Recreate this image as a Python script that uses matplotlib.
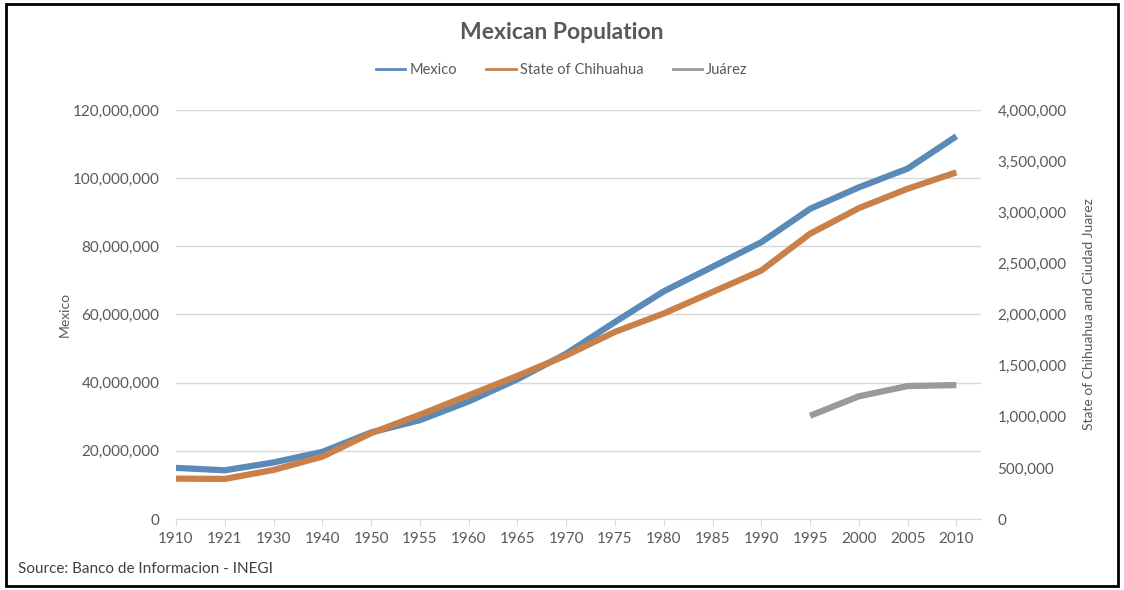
import matplotlib
matplotlib.use('Agg')

import numpy as np
import matplotlib.pyplot as plt
from matplotlib.lines import Line2D
from matplotlib.ticker import FuncFormatter

plt.rcParams['font.family'] = ['Lato', 'DejaVu Sans']

years = ['1910', '1921', '1930', '1940', '1950', '1955', '1960', '1965', '1970',
         '1975', '1980', '1985', '1990', '1995', '2000', '2005', '2010']
mexico = [15.0e6, 14.3e6, 16.6e6, 19.7e6, 25.4e6, 29.0e6, 34.5e6, 41.0e6, 48.5e6,
          57.8e6, 66.8e6, 74.0e6, 81.2e6, 91.0e6, 97.3e6, 102.8e6, 112.3e6]
chihuahua = [395e3, 392e3, 480e3, 610e3, 840e3, 1.02e6, 1.21e6, 1.40e6, 1.60e6,
             1.83e6, 2.01e6, 2.22e6, 2.43e6, 2.79e6, 3.04e6, 3.23e6, 3.39e6]
juarez_years = ['1995', '2000', '2005', '2010']
juarez = [1.01e6, 1.20e6, 1.30e6, 1.31e6]

grey = '#595959'
blue = '#5A8AB8'
orange = '#C98149'
silver = '#9A9A9A'

fig = plt.figure(figsize=(11.24, 5.90), dpi=100)
ax = fig.add_axes([0.1566, 0.1203, 0.716, 0.6933])
ax2 = ax.twinx()

x = np.arange(len(years))
jx = [years.index(y) for y in juarez_years]

ax.plot(x, mexico, color=blue, lw=4.5, solid_capstyle='butt', zorder=3)
ax2.plot(x, chihuahua, color=orange, lw=4.5, solid_capstyle='butt', zorder=3)
ax2.plot(jx, juarez, color=silver, lw=4.5, solid_capstyle='butt', zorder=3)

ax.set_xlim(0, 16.5)
ax.set_ylim(0, 120e6)
ax2.set_ylim(0, 4e6)
ax.set_yticks(np.arange(0, 120e6 + 1, 20e6))
ax2.set_yticks(np.arange(0, 4e6 + 1, 5e5))
fmt = FuncFormatter(lambda v, p: f'{v:,.0f}')
ax.yaxis.set_major_formatter(fmt)
ax2.yaxis.set_major_formatter(fmt)

ax.set_xticks(x)
ax.set_xticklabels(years)
ax.grid(axis='y', color='#D9D9D9', lw=1)
ax.set_axisbelow(True)

for a in (ax, ax2):
    for s in a.spines.values():
        s.set_visible(False)
    a.tick_params(axis='y', length=0, labelsize=11, labelcolor=grey, pad=12)
ax.spines['bottom'].set_visible(True)
ax.spines['bottom'].set_color('#D9D9D9')
ax.tick_params(axis='x', length=5, color='#D9D9D9', labelsize=11, labelcolor=grey, pad=4)

ax.set_ylabel('Mexico', fontsize=10, color=grey, labelpad=1)
ax2.set_ylabel('State of Chihuahua and Ciudad Juarez', fontsize=10, color=grey,
               rotation=90, labelpad=12)

fig.text(0.5, 0.945, 'Mexican Population', ha='center', va='center',
         fontsize=16.5, fontweight='bold', color=grey)
handles = [Line2D([], [], color=c, lw=2) for c in (blue, orange, silver)]
fig.legend(handles, ['Mexico', 'State of Chihuahua', 'Juárez'],
           loc='center', bbox_to_anchor=(0.5, 0.881), ncol=3, frameon=False,
           fontsize=10.5, labelcolor=grey, handlelength=2.0, handletextpad=0.3,
           columnspacing=2.0)
fig.text(0.016, 0.035, 'Source: Banco de Informacion - INEGI', ha='left',
         va='center', fontsize=11, color='#404040')

fig.patches.append(plt.Rectangle((0.005, 0.006), 0.99, 0.988, transform=fig.transFigure,
                                 fill=False, edgecolor='black', lw=2))

fig.savefig('out.png', dpi=100)
